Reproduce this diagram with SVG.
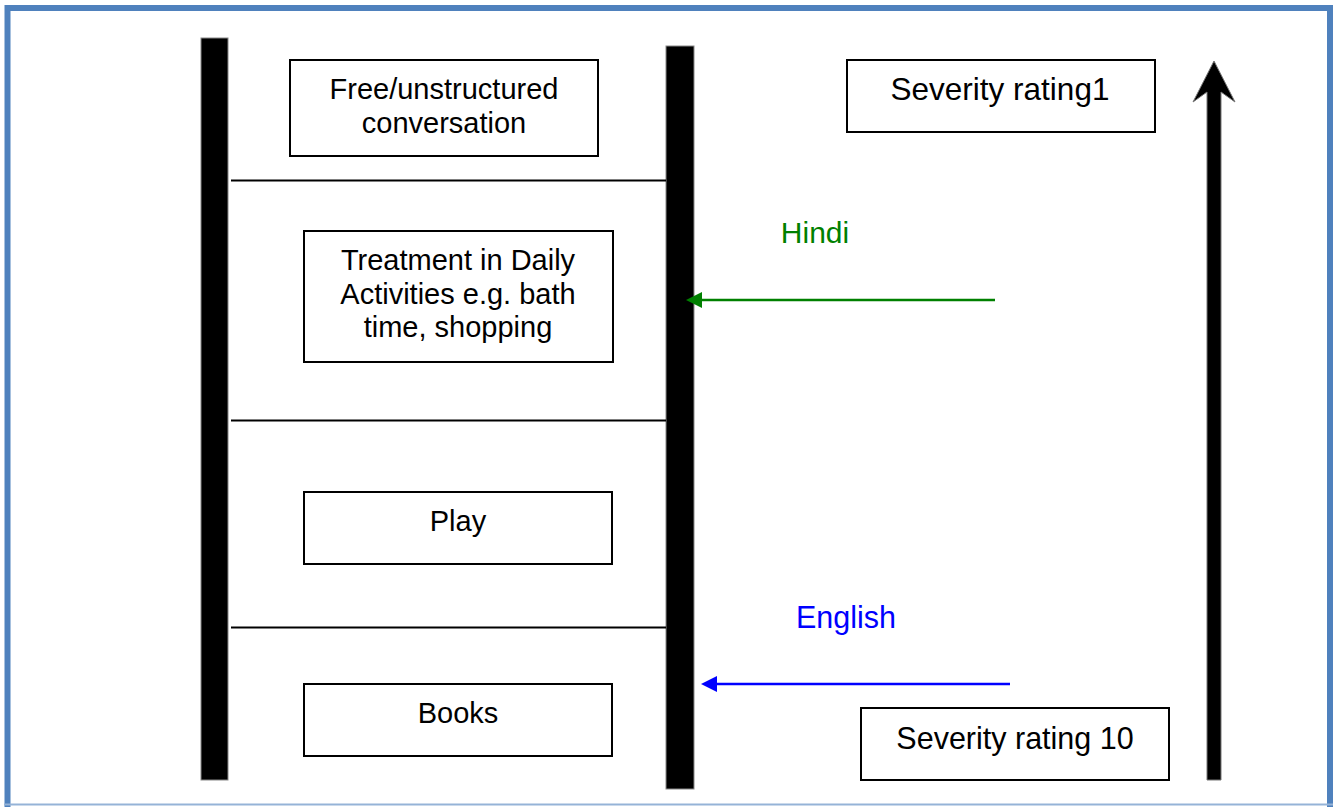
<svg xmlns="http://www.w3.org/2000/svg" width="1339" height="807" viewBox="0 0 1339 807">
<style>
.box{fill:#fff;stroke:#000;stroke-width:2}
.t{font-family:"Liberation Sans",Arial,sans-serif;font-size:29px;fill:#000;text-anchor:middle}
.bar{fill:#000;stroke:#888;stroke-width:1}
.sep{stroke:#000;stroke-width:2}
</style>
<defs>
<marker id="ag" markerWidth="16" markerHeight="16" refX="0" refY="8" orient="auto" markerUnits="userSpaceOnUse" viewBox="0 0 16 16">
<path d="M0,0 L16,8 L0,16 Z" fill="#008000"/>
</marker>
<marker id="ab" markerWidth="16" markerHeight="16" refX="0" refY="8" orient="auto" markerUnits="userSpaceOnUse" viewBox="0 0 16 16">
<path d="M0,0 L16,8 L0,16 Z" fill="#0000ff"/>
</marker>
</defs>
<rect width="1339" height="807" fill="#fff"/>
<g id="frame">
<path d="M7.5,807 L7.5,8 L1330,8 L1330,807" fill="none" stroke="#4F81BD" stroke-width="6"/>
<line x1="4" y1="804.5" x2="1333" y2="804.5" stroke="#95B3D7" stroke-width="2"/>
</g>
<g id="bars">
<rect class="bar" x="201" y="38" width="27" height="742"/>
<rect class="bar" x="666" y="46" width="28" height="743"/>
</g>
<g id="connectors">
<line class="sep" x1="231" y1="180.5" x2="666" y2="180.5"/>
<line class="sep" x1="231" y1="420.5" x2="666" y2="420.5"/>
<line class="sep" x1="231" y1="627.5" x2="666" y2="627.5"/>
<line x1="995" y1="300" x2="702" y2="300" stroke="#008000" stroke-width="2.5" marker-end="url(#ag)"/>
<line x1="1010" y1="684" x2="717" y2="684" stroke="#0000ff" stroke-width="2.5" marker-end="url(#ab)"/>
<path d="M1207,780 L1207,92 L1193,102 L1214,61 L1235,102 L1221,92 L1221,780 Z" fill="#000" stroke="#777" stroke-width="1"/>
</g>
<g id="n1"><rect class="box" x="290" y="60" width="308" height="96"/>
<text class="t" x="444" y="99">Free/unstructured</text><text class="t" x="444" y="133">conversation</text></g>
<g id="n2"><rect class="box" x="304" y="231" width="309" height="131"/>
<text class="t" x="458" y="270">Treatment in Daily</text><text class="t" x="458" y="304">Activities e.g. bath</text><text class="t" x="458" y="337">time, shopping</text></g>
<g id="n3"><rect class="box" x="304" y="492" width="308" height="72"/>
<text class="t" x="458" y="531">Play</text></g>
<g id="n4"><rect class="box" x="304" y="684" width="308" height="72"/>
<text class="t" x="458" y="723">Books</text></g>
<g id="n5"><rect class="box" x="847" y="60" width="308" height="72"/>
<text class="t" x="1000" y="100" style="font-size:31.5px">Severity rating1</text></g>
<g id="n6"><rect class="box" x="861" y="708" width="308" height="72"/>
<text class="t" x="1015" y="749" style="font-size:30.5px">Severity rating 10</text></g>
<g id="hindi"><text class="t" x="815" y="243" style="fill:#008000;font-size:30px">Hindi</text></g>
<g id="english"><text class="t" x="846" y="628" style="fill:#0000ff;font-size:30.5px">English</text></g>
</svg>
